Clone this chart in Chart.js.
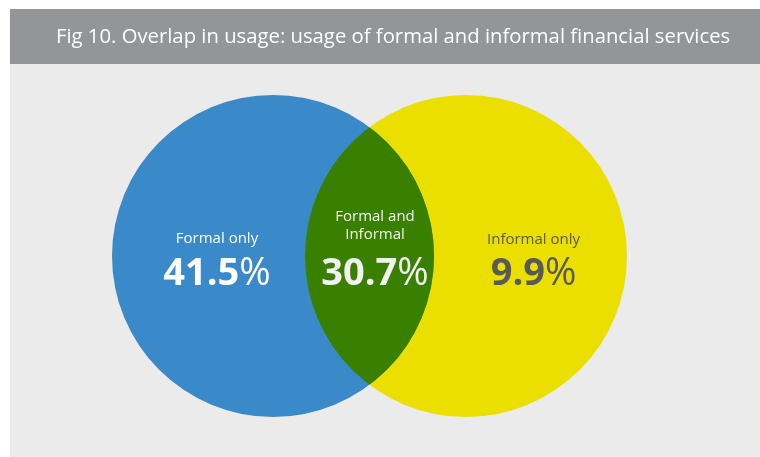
<!DOCTYPE html>
<html><head><meta charset="utf-8">
<script src="https://cdn.jsdelivr.net/npm/chart.js@4.4.1/dist/chart.umd.min.js"></script>
<style>html,body{margin:0;padding:0;background:#fff;} canvas{display:block;}</style>
</head><body>
<canvas id="c" width="760" height="457"></canvas>
<script>
// ---- data ----
const chartTitle = 'Fig 10. Overlap in usage: usage of formal and informal financial services';
const setNames = ['Formal', 'Informal'];
const setX = [0, 1];
const setY = [0, 0];
const regionLabels = [['Formal only'], ['Formal and', 'Informal'], ['Informal only']];
const regionShares = [41.5, 30.7, 9.9];

// ---- styles ----
const setColors = ['#3a89c9', '#ebdf00'];
const overlapColor = '#3a8000';
const labelColors = ['#ffffff', '#f2f2f2', '#58595b'];
const circleRadius = 161;

const vennPlugin = {
  id: 'venn',
  beforeDraw(chart) {
    const ctx = chart.ctx;
    ctx.save();
    ctx.fillStyle = '#ffffff'; ctx.fillRect(0, 0, 760, 457);
    ctx.fillStyle = '#ebebeb'; ctx.fillRect(10, 64, 750, 393);
    ctx.fillStyle = '#939598'; ctx.fillRect(10, 9, 750, 55);
    ctx.fillStyle = '#ffffff';
    ctx.font = '20.3px "Open Sans"';
    ctx.textAlign = 'left'; ctx.textBaseline = 'alphabetic';
    ctx.fillText(chartTitle, 56, 43);
    ctx.restore();
  },
  afterDatasetsDraw(chart) {
    const ctx = chart.ctx;
    const a = chart.getDatasetMeta(0).data[0];
    const b = chart.getDatasetMeta(1).data[0];
    const ra = a.options.radius, rb = b.options.radius;
    ctx.save();
    ctx.beginPath(); ctx.arc(a.x, a.y, ra, 0, Math.PI * 2); ctx.clip();
    ctx.beginPath(); ctx.arc(b.x, b.y, rb, 0, Math.PI * 2);
    ctx.fillStyle = overlapColor; ctx.fill();
    ctx.restore();

    const xs = [a.x - 56, (a.x + b.x) / 2 + 5.5, b.x + 67.5];
    const firstBase = [a.y - 13, a.y - 35, a.y - 12];
    const valueBase = a.y + 29;
    ctx.save();
    ctx.textAlign = 'left'; ctx.textBaseline = 'alphabetic';
    regionLabels.forEach((lines, i) => {
      ctx.fillStyle = labelColors[i];
      ctx.font = '15px "Open Sans"';
      lines.forEach((ln, j) => {
        const w = ctx.measureText(ln).width;
        ctx.fillText(ln, xs[i] - w / 2, firstBase[i] + j * 18);
      });
      const num = regionShares[i].toFixed(1);
      ctx.font = 'bold 38px "Open Sans"';
      const w1 = ctx.measureText(num).width;
      ctx.font = '38px "Open Sans"';
      const w2 = ctx.measureText('%').width;
      const x0 = xs[i] - (w1 + w2) / 2;
      ctx.font = 'bold 38px "Open Sans"';
      ctx.fillText(num, x0, valueBase);
      ctx.font = '38px "Open Sans"';
      ctx.fillText('%', x0 + w1, valueBase);
    });
    ctx.restore();
  }
};

new Chart(document.getElementById('c'), {
  type: 'bubble',
  data: {
    datasets: setNames.map((name, i) => ({
      label: name,
      data: [{ x: setX[i], y: setY[i] }],
      backgroundColor: setColors[i],
      borderWidth: 0,
      radius: circleRadius,
      clip: false
    }))
  },
  options: {
    responsive: false,
    animation: false,
    events: [],
    layout: { autoPadding: false, padding: { left: 273, right: 294, top: 56, bottom: 1 } },
    scales: {
      x: { type: 'linear', min: 0, max: 1, display: false },
      y: { type: 'linear', min: -1, max: 1, display: false }
    },
    plugins: { legend: { display: false }, tooltip: { enabled: false } }
  },
  plugins: [vennPlugin]
});
</script>
</body></html>
